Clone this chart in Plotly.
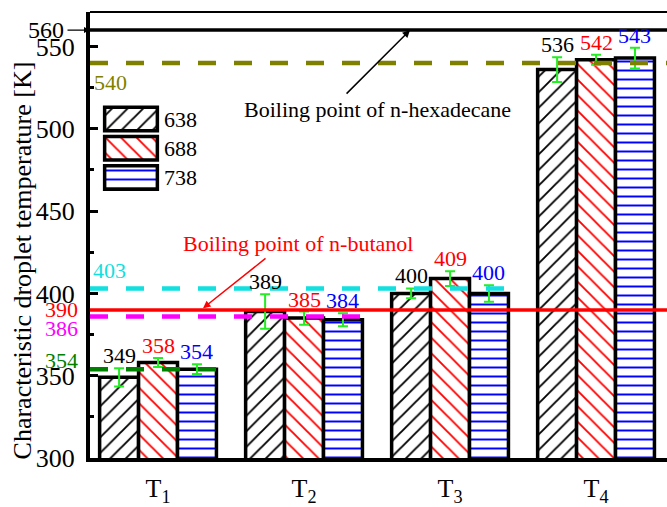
import plotly.graph_objects as go

# ---- data -------------------------------------------------------------
categories = ["T<sub>1</sub>", "T<sub>2</sub>", "T<sub>3</sub>", "T<sub>4</sub>"]
series_names = ["638", "688", "738"]
temp_638 = [349, 389, 400, 536]
temp_688 = [358, 385, 409, 542]
temp_738 = [354, 384, 400, 543]
err_638 = [5.5, 10.5, 3.0, 7.5]
err_688 = [2.7, 4.0, 4.5, 3.0]
err_738 = [3.0, 4.0, 5.0, 6.3]
y_ticks = [300, 350, 400, 450, 500, 550]

bp_hexadecane = 560
bp_butanol = 390
level_540 = 540
level_403 = 403
level_386 = 386
level_354 = 354

# ---- style ------------------------------------------------------------
FONT = "Liberation Serif"
ERR_COLOR = "#22ee22"
series_values = [temp_638, temp_688, temp_738]
series_errs = [err_638, err_688, err_738]
text_colors = ["black", "#ff0000", "#0000ff"]
pat_shapes = ["/", "\\", "-"]
pat_colors = ["black", "#ff0000", "#0000ff"]
pat_sizes = [11, 11, 9]
pat_solid = [0.17, 0.17, 0.22]

x_idx = list(range(len(categories)))
bargap = 0.2
n_series = len(series_values)
bar_w = (1 - bargap) / n_series

fig = go.Figure()

for k in range(n_series):
    fig.add_trace(go.Bar(
        x=x_idx, y=series_values[k], name=series_names[k],
        marker=dict(color="white",
                    line=dict(color="black", width=3.5),
                    pattern=dict(shape=pat_shapes[k], fgcolor=pat_colors[k],
                                 bgcolor="white", size=pat_sizes[k],
                                 solidity=pat_solid[k], fgopacity=1)),
        error_y=dict(type="data", array=series_errs[k], color=ERR_COLOR,
                     thickness=2, width=5),
        showlegend=False,
    ))

# legend swatches drawn on a small helper subplot
fig.add_trace(go.Bar(
    y=list(range(n_series)), x=[1] * n_series, base=0, orientation="h",
    width=0.8, xaxis="x2", yaxis="y2", showlegend=False, hoverinfo="skip",
    marker=dict(color="white", line=dict(color="black", width=3.5),
                pattern=dict(shape=pat_shapes, fgcolor=pat_colors,
                             bgcolor="white", size=pat_sizes,
                             solidity=pat_solid, fgopacity=1)),
))

annotations = []
# value labels above each error bar
for k in range(n_series):
    offset = (k - (n_series - 1) / 2) * bar_w
    for i, v in enumerate(series_values[k]):
        annotations.append(dict(
            x=i + offset, y=v + series_errs[k][i], xref="x", yref="y",
            text=str(v), showarrow=False, yanchor="bottom", yshift=-2,
            font=dict(family=FONT, size=22, color=text_colors[k])))

# legend labels
for k, name in enumerate(series_names):
    annotations.append(dict(
        x=1.05, y=k, xref="x2", yref="y2", text=name, showarrow=False,
        xanchor="left", xshift=2, font=dict(family=FONT, size=22, color="black")))

# reference-level labels
annotations += [
    dict(x=0, y=bp_hexadecane, xref="paper", yref="y", text="560",
         showarrow=False, xanchor="center", xshift=-44,
         font=dict(family=FONT, size=24, color="black")),
    dict(x=0, y=bp_hexadecane, xref="paper", yref="y", text="",
         showarrow=True, ax=-24, ay=0, arrowhead=2, arrowsize=1,
         arrowwidth=1.2, arrowcolor="black"),
    dict(x=0, y=level_540, xref="paper", yref="y", text="540",
         showarrow=False, xanchor="left", xshift=2, yshift=-19,
         font=dict(family=FONT, size=22, color="#808000")),
    dict(x=0, y=level_403, xref="paper", yref="y", text="403",
         showarrow=False, xanchor="left", xshift=1, yshift=18,
         font=dict(family=FONT, size=22, color="#11e0e0")),
    dict(x=0, y=bp_butanol, xref="paper", yref="y", text="390",
         showarrow=False, xanchor="right", xshift=-10,
         font=dict(family=FONT, size=22, color="#ff0000")),
    dict(x=0, y=level_386, xref="paper", yref="y", text="386",
         showarrow=False, xanchor="right", xshift=-10, yshift=-12,
         font=dict(family=FONT, size=22, color="#ff00ff")),
    dict(x=0, y=level_354, xref="paper", yref="y", text="354",
         showarrow=False, xanchor="right", xshift=-10, yshift=9,
         font=dict(family=FONT, size=22, color="#008000")),
    dict(x=1.5, y=511.5, xref="x", yref="y",
         text="Boiling point of n-hexadecane", showarrow=False,
         font=dict(family=FONT, size=22, color="black")),
    dict(x=1.726, y=bp_hexadecane, xref="x", yref="y", text="",
         showarrow=True, ax=-65, ay=65, arrowhead=2, arrowsize=1,
         arrowwidth=1.5, arrowcolor="black"),
    dict(x=0.96, y=430.3, xref="x", yref="y",
         text="Boiling point of n-butanol", showarrow=False,
         font=dict(family=FONT, size=22, color="#ff0000")),
    dict(x=0.308, y=bp_butanol + 1, xref="x", yref="y", text="",
         showarrow=True, ax=64, ay=-51, arrowhead=2, arrowsize=1,
         arrowwidth=1.5, arrowcolor="#ff0000"),
    dict(x=0, y=0.443, xref="paper", yref="paper",
         text="Characteristic droplet temperature [K]", textangle=-90,
         showarrow=False, xanchor="center", yanchor="middle", xshift=-68,
         font=dict(family=FONT, size=26, color="black")),
]

x_lo, x_hi = -0.466, 3.486
dash = "18px,18px"
shapes = [
    dict(type="line", xref="paper", yref="paper", x0=0, x1=1, y0=1, y1=1,
         line=dict(color="black", width=2), layer="above"),
    dict(type="line", xref="paper", yref="y", x0=0, x1=1,
         y0=bp_hexadecane, y1=bp_hexadecane,
         line=dict(color="black", width=3.5), layer="above"),
    dict(type="line", xref="paper", yref="y", x0=0, x1=1,
         y0=level_540, y1=level_540,
         line=dict(color="#808000", width=4.5, dash=dash), layer="above"),
    dict(type="line", xref="x", yref="y", x0=x_lo, x1=2.4,
         y0=level_403, y1=level_403,
         line=dict(color="#11e0e0", width=4.5, dash=dash), layer="above"),
    dict(type="line", xref="paper", yref="y", x0=0, x1=1,
         y0=bp_butanol, y1=bp_butanol,
         line=dict(color="#ff0000", width=3.5), layer="above"),
    dict(type="line", xref="x", yref="y", x0=x_lo, x1=1.4,
         y0=level_386, y1=level_386,
         line=dict(color="#ff00ff", width=4.5, dash=dash), layer="above"),
    dict(type="line", xref="x", yref="y", x0=x_lo, x1=0.4,
         y0=level_354, y1=level_354,
         line=dict(color="#008000", width=4.5, dash=dash), layer="above"),
]

fig.update_layout(
    width=667, height=507,
    margin=dict(l=90, r=0, t=12, b=46),
    paper_bgcolor="white", plot_bgcolor="white",
    barmode="group", bargap=bargap, bargroupgap=0,
    font=dict(family=FONT, color="black"),
    xaxis=dict(range=[x_lo, x_hi], tickvals=x_idx, ticktext=categories,
               showline=True, linewidth=4, linecolor="black",
               ticks="", showgrid=False, zeroline=False,
               tickfont=dict(family=FONT, size=26), ticklabelstandoff=4),
    yaxis=dict(range=[300, 571], tickvals=y_ticks, showline=True,
               linewidth=4, linecolor="black", ticks="inside", ticklen=8,
               tickwidth=3, tickcolor="black", showgrid=False,
               zeroline=False, tickfont=dict(family=FONT, size=26),
               ticklabelstandoff=6,
               minor=dict(dtick=25, ticks="inside", ticklen=4,
                          tickwidth=3, tickcolor="black")),
    xaxis3=dict(range=[x_lo, x_hi], overlaying="x", side="top",
                tickvals=[v / 2 for v in range(0, 7)], ticks="inside",
                ticklen=4, tickwidth=1.5, tickcolor="black",
                showticklabels=False, showgrid=False, zeroline=False,
                showline=False),
    xaxis2=dict(domain=[0.0208, 0.1213], range=[-0.05, 1.05], anchor="y2",
                visible=False, fixedrange=True),
    yaxis2=dict(domain=[0.593, 0.796], range=[2.55, -0.55], anchor="x2",
                visible=False, fixedrange=True),
    annotations=annotations,
    shapes=shapes,
)

fig.write_html("out.html")
